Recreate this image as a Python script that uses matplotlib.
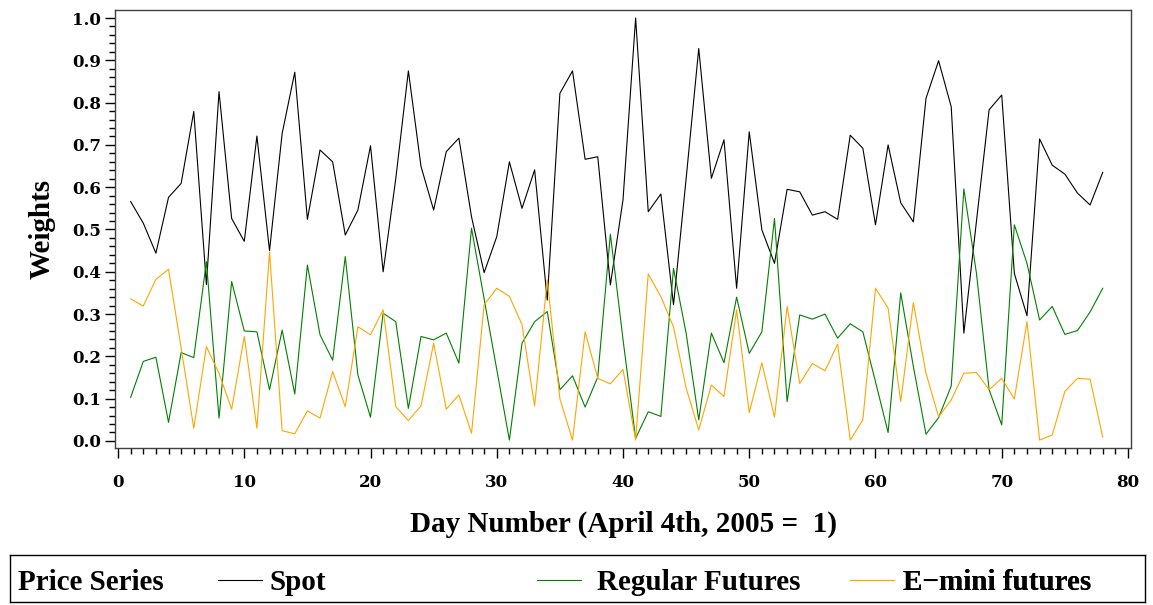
import numpy as np
import matplotlib
matplotlib.use("Agg")
import matplotlib.pyplot as plt
from matplotlib.ticker import MultipleLocator, FormatStrFormatter
from matplotlib.font_manager import FontProperties

# day numbers (April 4th, 2005 = 1)
days = np.arange(1, 79)

# weights
spot = [0.566, 0.515, 0.444, 0.576, 0.609, 0.779, 0.370, 0.826, 0.526, 0.472,
        0.721, 0.450, 0.727, 0.872, 0.524, 0.688, 0.660, 0.487, 0.546, 0.698,
        0.400, 0.620, 0.875, 0.649, 0.546, 0.684, 0.716, 0.530, 0.398, 0.483,
        0.660, 0.550, 0.641, 0.333, 0.822, 0.875, 0.666, 0.672, 0.369, 0.570,
        1.000, 0.542, 0.584, 0.322, 0.620, 0.928, 0.621, 0.712, 0.361, 0.731,
        0.499, 0.420, 0.595, 0.589, 0.534, 0.542, 0.524, 0.723, 0.692, 0.511,
        0.700, 0.563, 0.518, 0.810, 0.899, 0.790, 0.255, 0.520, 0.783, 0.818,
        0.396, 0.296, 0.714, 0.652, 0.631, 0.586, 0.558, 0.635]

regular = [0.103, 0.188, 0.198, 0.044, 0.209, 0.197, 0.424, 0.054, 0.377, 0.260,
           0.258, 0.121, 0.262, 0.111, 0.416, 0.251, 0.191, 0.436, 0.156, 0.056,
           0.302, 0.282, 0.077, 0.247, 0.239, 0.255, 0.184, 0.503, 0.336, 0.169,
           0.002, 0.231, 0.282, 0.306, 0.121, 0.154, 0.080, 0.151, 0.489, 0.240,
           0.006, 0.069, 0.058, 0.408, 0.255, 0.050, 0.255, 0.185, 0.340, 0.207,
           0.258, 0.526, 0.093, 0.298, 0.288, 0.300, 0.243, 0.277, 0.258, 0.140,
           0.020, 0.350, 0.176, 0.016, 0.055, 0.130, 0.596, 0.396, 0.121, 0.038,
           0.511, 0.420, 0.286, 0.318, 0.252, 0.261, 0.305, 0.361]

emini = [0.336, 0.319, 0.382, 0.406, 0.220, 0.030, 0.223, 0.160, 0.075, 0.247,
         0.030, 0.447, 0.024, 0.017, 0.071, 0.054, 0.164, 0.081, 0.270, 0.251,
         0.310, 0.081, 0.048, 0.083, 0.231, 0.075, 0.109, 0.018, 0.322, 0.361,
         0.342, 0.275, 0.083, 0.381, 0.100, 0.002, 0.258, 0.148, 0.135, 0.169,
         0.002, 0.395, 0.341, 0.270, 0.125, 0.026, 0.132, 0.105, 0.310, 0.067,
         0.185, 0.056, 0.318, 0.136, 0.183, 0.166, 0.229, 0.002, 0.050, 0.361,
         0.314, 0.093, 0.327, 0.160, 0.057, 0.097, 0.160, 0.162, 0.121, 0.148,
         0.099, 0.282, 0.002, 0.014, 0.117, 0.148, 0.146, 0.009]

series_names = ["Spot", "Regular Futures", "E\u2212mini futures"]
series_colors = ["black", "#008000", "#FFA500"]

W, H = 1153, 605
fig = plt.figure(figsize=(W / 100, H / 100), dpi=100)

# main plot area (pixel box converted to figure fractions)
ax = fig.add_axes([115 / W, 1 - 447.7 / H, (1131 - 115) / W, (447.7 - 10) / H])

lines = []
for vals, c in zip([spot, regular, emini], series_colors):
    ln, = ax.plot(days, vals, color=c, lw=0.8)
    lines.append(ln)

ax.set_xlim(-0.24, 80.24)
ax.set_ylim(-0.016, 1.019)
ax.xaxis.set_major_locator(MultipleLocator(10))
ax.xaxis.set_minor_locator(MultipleLocator(1))
ax.yaxis.set_major_locator(MultipleLocator(0.1))
ax.yaxis.set_minor_locator(MultipleLocator(0.02))
ax.yaxis.set_major_formatter(FormatStrFormatter("%.1f"))

tickfont = FontProperties(family="DejaVu Serif", weight="bold", size=12)
for lab in ax.get_xticklabels() + ax.get_yticklabels():
    lab.set_fontproperties(tickfont)
ax.tick_params(axis="both", which="major", length=7, width=1, direction="out")
ax.tick_params(axis="both", which="minor", length=4, width=1, direction="out")
ax.tick_params(axis="x", pad=12)
ax.tick_params(axis="y", pad=3)
for s in ax.spines.values():
    s.set_linewidth(1)
    s.set_color("#404040")

labfont = dict(family="Liberation Serif", weight="bold", size=21)
ax.set_xlabel("Day Number (April 4th, 2005 =  1)", labelpad=14, **labfont)
ax.set_ylabel("Weights", labelpad=12, **labfont)

# legend strip at the bottom
lax = fig.add_axes([10 / W, 1 - 602 / H, (1145 - 10) / W, (602 - 555) / H])
lax.set_xticks([])
lax.set_yticks([])
for s in lax.spines.values():
    s.set_linewidth(1)
    s.set_color("black")
lax.text(8 / 1135, 0.42, "Price Series", transform=lax.transAxes,
         ha="left", va="center", **labfont)

leg_x = [218, 537, 850]      # left edge of each entry, pixels
leg_pad = [0.25, 0.55, 0.33]  # gap between key and text
for ln, name, lx, pd in zip(lines, series_names, leg_x, leg_pad):
    lg = lax.legend([ln], [name], loc="center left",
                    bbox_to_anchor=((lx - 10) / 1135, 0.42),
                    frameon=False, handlelength=1.5, handletextpad=pd,
                    borderpad=0, borderaxespad=0,
                    prop=FontProperties(**labfont))
    for h in lg.legend_handles:
        h.set_linewidth(0.8)
    lax.add_artist(lg)

fig.savefig("out.png", dpi=100)
